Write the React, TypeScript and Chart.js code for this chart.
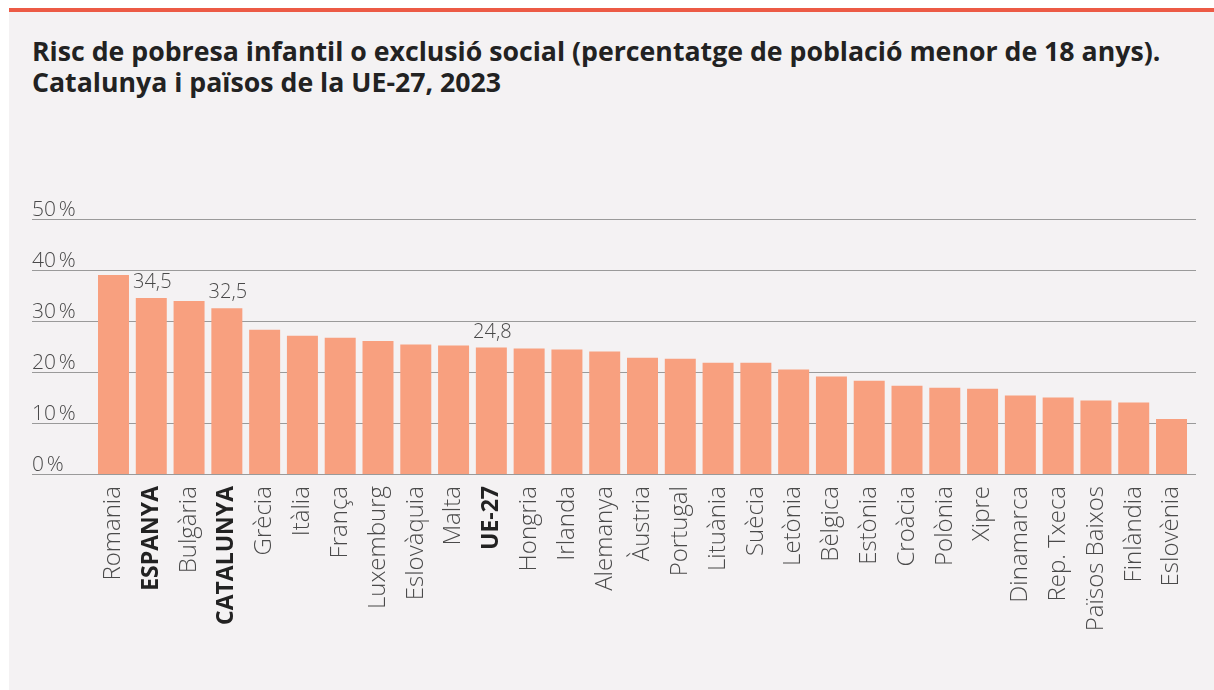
import { useEffect, useRef } from "react";
import { Chart, registerables } from "chart.js";

Chart.register(...registerables);

const titleLines = [
  "Risc de pobresa infantil o exclusió social (percentatge de població menor de 18 anys).",
  "Catalunya i països de la UE-27, 2023",
];

const categories = [
  "Romania", "ESPANYA", "Bulgària", "CATALUNYA", "Grècia", "Itàlia", "França",
  "Luxemburg", "Eslovàquia", "Malta", "UE-27", "Hongria", "Irlanda", "Alemanya",
  "Àustria", "Portugal", "Lituània", "Suècia", "Letònia", "Bèlgica", "Estònia",
  "Croàcia", "Polònia", "Xipre", "Dinamarca", "Rep. Txeca", "Països Baixos",
  "Finlàndia", "Eslovènia",
];

const values = [
  39.0, 34.5, 33.9, 32.5, 28.3, 27.1, 26.7,
  26.1, 25.4, 25.2, 24.8, 24.6, 24.4, 24.0,
  22.8, 22.6, 21.8, 21.8, 20.5, 19.1, 18.3,
  17.3, 16.9, 16.7, 15.4, 15.0, 14.4,
  14.0, 10.8,
];

const highlighted = ["ESPANYA", "CATALUNYA", "UE-27"];

const yTicks = [0, 10, 20, 30, 40, 50];
const yTickLabels = ["0\u202F%", "10\u202F%", "20\u202F%", "30\u202F%", "40\u202F%", "50\u202F%"];

const FONT = "'Open Sans', 'Noto Sans', sans-serif";

export default function App() {
  const canvasRef = useRef<HTMLCanvasElement | null>(null);

  useEffect(() => {
    const canvas = canvasRef.current;
    if (!canvas) return;

    const gridPlugin = {
      id: "customGrid",
      beforeDatasetsDraw(chart: any) {
        const ctx = chart.ctx;
        const y = chart.scales.y;
        ctx.save();
        ctx.strokeStyle = "#9a9a9a";
        ctx.lineWidth = 1;
        ctx.fillStyle = "#4a4a4a";
        ctx.font = `300 21px ${FONT}`;
        ctx.textAlign = "left";
        ctx.textBaseline = "alphabetic";
        yTicks.forEach((v, i) => {
          const py = Math.round(y.getPixelForValue(v)) + 0.5;
          ctx.beginPath();
          ctx.moveTo(32, py);
          ctx.lineTo(1196, py);
          ctx.stroke();
          ctx.fillText(yTickLabels[i], 32, py - 4);
        });
        ctx.restore();
      },
    };

    const valuePlugin = {
      id: "valueLabels",
      afterDatasetsDraw(chart: any) {
        const ctx = chart.ctx;
        const meta = chart.getDatasetMeta(0);
        ctx.save();
        ctx.fillStyle = "#4a4a4a";
        ctx.font = `300 20px ${FONT}`;
        ctx.textAlign = "center";
        ctx.textBaseline = "alphabetic";
        categories.forEach((c, i) => {
          if (!highlighted.includes(c)) return;
          const el = meta.data[i];
          ctx.fillText(values[i].toFixed(1).replace(".", ","), el.x + 1, el.y - 10);
        });
        ctx.restore();
      },
    };

    const chart = new Chart(canvas, {
      type: "bar",
      data: {
        labels: categories,
        datasets: [
          {
            data: values,
            backgroundColor: "#F8A07F",
            borderWidth: 0,
            barPercentage: 0.82,
            categoryPercentage: 1,
          },
        ],
      },
      options: {
        animation: false,
        responsive: false,
        maintainAspectRatio: false,
        events: [],
        layout: { padding: { left: 94.6, right: 23.6, top: 219, bottom: 0 } },
        plugins: {
          legend: { display: false },
          tooltip: { enabled: false },
          title: { display: false },
        },
        scales: {
          y: {
            display: false,
            min: 0,
            max: 50,
          },
          x: {
            grid: { display: false, drawTicks: false },
            border: { display: false },
            afterFit: (axis: any) => {
              axis.height = 216;
            },
            ticks: {
              autoSkip: false,
              minRotation: 90,
              maxRotation: 90,
              padding: 12,
              color: (ctx: any) =>
                highlighted.includes(categories[ctx.index]) ? "#222222" : "#4a4a4a",
              font: (ctx: any) =>
                highlighted.includes(categories[ctx.index])
                  ? { family: FONT, size: 23, weight: "bold" }
                  : { family: FONT, size: 24, weight: "300" },
            },
          },
        },
      },
      plugins: [gridPlugin, valuePlugin],
    });

    return () => chart.destroy();
  }, []);

  return (
    <div
      style={{
        position: "fixed",
        left: 0,
        top: 0,
        width: 1214,
        height: 690,
        background: "#ffffff",
        overflow: "hidden",
      }}
    >
      <div
        style={{
          position: "absolute",
          left: 9,
          top: 9,
          right: 0,
          bottom: 0,
          background: "#F4F2F3",
        }}
      />
      <div
        style={{
          position: "absolute",
          left: 9,
          top: 8,
          right: 0,
          height: 4,
          background: "#EC5A45",
        }}
      />
      <div
        style={{
          position: "absolute",
          left: 32,
          top: 35,
          fontFamily: FONT,
          fontWeight: 700,
          fontSize: 26.7,
          lineHeight: "31px",
          color: "#222222",
          whiteSpace: "nowrap",
        }}
      >
        {titleLines.map((t) => (
          <div key={t}>{t}</div>
        ))}
      </div>
      <canvas
        ref={canvasRef}
        width={1214}
        height={690}
        style={{ position: "absolute", left: 0, top: 0, width: 1214, height: 690 }}
      />
    </div>
  );
}
